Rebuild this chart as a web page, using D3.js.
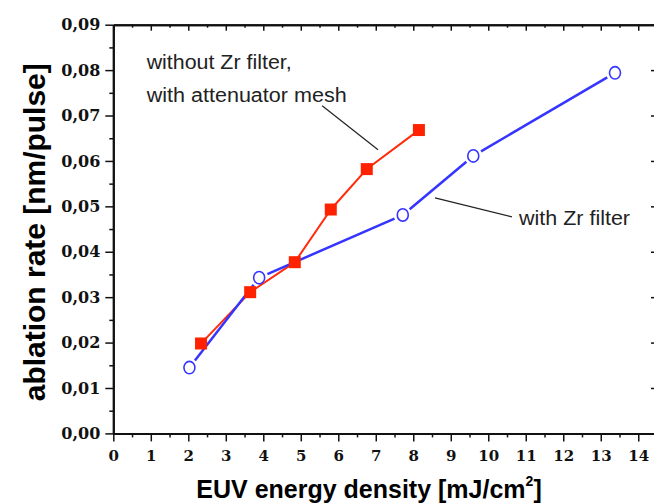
<!DOCTYPE html>
<html>
<head>
<meta charset="utf-8">
<script src="https://cdnjs.cloudflare.com/ajax/libs/d3/7.8.5/d3.min.js"></script>
<style>
  body { margin: 0; background: #fff; }
  svg { display: block; }
</style>
</head>
<body>
<svg id="chart" width="654" height="504"></svg>
<script>
// without Zr filter, with attenuator mesh
var meshX = [2.34, 3.65, 4.84, 5.80, 6.76, 8.15];
var meshY = [0.0198, 0.0311, 0.0377, 0.0493, 0.0582, 0.0668];
// with Zr filter
var zrX = [2.03, 3.89, 7.72, 9.60, 13.38];
var zrY = [0.0145, 0.0343, 0.0481, 0.0611, 0.0794];

var xTicks = d3.range(0, 15, 1);
var yTicks = [0, 0.01, 0.02, 0.03, 0.04, 0.05, 0.06, 0.07, 0.08, 0.09];

var svg = d3.select('#chart');
var pLeft = 113.3, pRight = 657, pTop = 24.7, pBottom = 433.4;

var x = d3.scaleLinear().domain([0, 14.5]).range([pLeft, pRight]);
var y = d3.scaleLinear().domain([0, 0.09]).range([pBottom, pTop]);

var fmtY = function (d) { return d3.format('.2f')(d).replace('.', ','); };
var tickFont = 'DejaVu Serif, serif';

// frame axes
var gBottom = svg.append('g').attr('transform', 'translate(0,' + pBottom + ')')
  .call(d3.axisBottom(x).tickValues(xTicks).tickSize(8).tickSizeOuter(0).tickPadding(9));
svg.append('g').attr('transform', 'translate(0,' + pBottom + ')')
  .call(d3.axisBottom(x).tickValues(d3.range(0.5, 14.5, 1)).tickSize(4).tickSizeOuter(0).tickFormat(''));
var gLeft = svg.append('g').attr('transform', 'translate(' + pLeft + ',0)')
  .call(d3.axisLeft(y).tickValues(yTicks).tickSize(8).tickSizeOuter(0).tickPadding(5).tickFormat(fmtY));
svg.append('g').attr('transform', 'translate(' + pLeft + ',0)')
  .call(d3.axisLeft(y).tickValues(d3.range(0.005, 0.09, 0.01)).tickSize(4).tickSizeOuter(0).tickFormat(''));
svg.append('g').attr('transform', 'translate(0,' + pTop + ')')
  .call(d3.axisBottom(x).tickValues(xTicks).tickSize(6).tickSizeOuter(0).tickFormat(''));
svg.append('g').attr('transform', 'translate(0,' + pTop + ')')
  .call(d3.axisBottom(x).tickValues(d3.range(0.5, 14.5, 1)).tickSize(3).tickSizeOuter(0).tickFormat(''));
svg.append('g').attr('transform', 'translate(' + pRight + ',0)')
  .call(d3.axisLeft(y).tickValues(yTicks).tickSize(6).tickSizeOuter(0).tickFormat(''));
svg.append('g').attr('transform', 'translate(' + pRight + ',0)')
  .call(d3.axisLeft(y).tickValues(d3.range(0.005, 0.09, 0.01)).tickSize(3).tickSizeOuter(0).tickFormat(''));

svg.selectAll('.domain').attr('stroke', '#111').attr('stroke-width', 2);
svg.selectAll('.tick line').attr('stroke', '#111').attr('stroke-width', 1.5);

gBottom.selectAll('text')
  .attr('font-family', tickFont).attr('font-weight', 'bold')
  .attr('font-size', '15px').attr('fill', '#111');
gLeft.selectAll('text')
  .attr('font-family', tickFont).attr('font-weight', 'bold')
  .attr('font-size', '16px').attr('fill', '#111');

// axis titles
svg.append('text')
  .attr('transform', 'translate(45,' + y(0.0443) + ') rotate(-90)')
  .attr('text-anchor', 'middle')
  .attr('font-family', 'Liberation Sans, Arial, sans-serif')
  .attr('font-weight', 'bold').attr('font-size', '30px')
  .attr('textLength', 338).attr('lengthAdjust', 'spacingAndGlyphs')
  .text('ablation rate [nm/pulse]');

var xt = svg.append('text')
  .attr('x', 369).attr('y', 498)
  .attr('text-anchor', 'middle')
  .attr('font-family', 'Liberation Sans, Arial, sans-serif')
  .attr('font-weight', 'bold').attr('font-size', '25px');
xt.append('tspan').text('EUV energy density [mJ/cm');
xt.append('tspan').attr('font-size', '14px').attr('dy', -12).text('2');
xt.append('tspan').attr('dy', 12).text(']');

// connecting lines with small gaps at markers
function drawSeries(xs, ys, color, width, gap) {
  var pts = xs.map(function (d, i) { return [x(d), y(ys[i])]; });
  var segs = d3.pairs(pts);
  svg.append('g').selectAll('line').data(segs)
    .enter().append('line')
    .each(function (s) {
      var dx = s[1][0] - s[0][0], dy = s[1][1] - s[0][1];
      var len = Math.sqrt(dx * dx + dy * dy);
      var ux = dx / len, uy = dy / len;
      d3.select(this)
        .attr('x1', s[0][0] + ux * gap).attr('y1', s[0][1] + uy * gap)
        .attr('x2', s[1][0] - ux * gap).attr('y2', s[1][1] - uy * gap);
    })
    .attr('stroke', color).attr('stroke-width', width);
  return pts;
}

var redPts = drawSeries(meshX, meshY, '#ff2a0a', 2, 3);
var bluePts = drawSeries(zrX, zrY, '#3535ff', 2.5, 9);

svg.append('g').selectAll('rect').data(redPts)
  .enter().append('rect')
  .attr('x', function (d) { return d[0] - 6; })
  .attr('y', function (d) { return d[1] - 6; })
  .attr('width', 12).attr('height', 12)
  .attr('fill', '#ff2200');

svg.append('g').selectAll('ellipse').data(bluePts)
  .enter().append('ellipse')
  .attr('cx', function (d) { return d[0]; })
  .attr('cy', function (d) { return d[1]; })
  .attr('rx', 5.5).attr('ry', 6.2)
  .attr('fill', '#fff')
  .attr('stroke', '#3535ff').attr('stroke-width', 1.6);

// annotations (data units)
var notes = [
  { x: 0.89, y: 0.0802, text: 'without Zr filter,', len: 145 },
  { x: 0.89, y: 0.0730, text: 'with attenuator mesh', len: 200 },
  { x: 10.82, y: 0.0459, text: 'with Zr filter', len: 111 }
];
var pointers = [
  [[5.57, 0.07215], [7.06, 0.06246]],
  [[8.58, 0.05188], [10.63, 0.04769]]
];

svg.append('g').selectAll('text').data(notes)
  .enter().append('text')
  .attr('x', function (d) { return x(d.x); })
  .attr('y', function (d) { return y(d.y); })
  .attr('font-family', 'Liberation Sans, Arial, sans-serif')
  .attr('font-size', '20px').attr('fill', '#222')
  .attr('textLength', function (d) { return d.len; })
  .attr('lengthAdjust', 'spacingAndGlyphs')
  .text(function (d) { return d.text; });

svg.append('g').selectAll('line').data(pointers)
  .enter().append('line')
  .attr('x1', function (d) { return x(d[0][0]); })
  .attr('y1', function (d) { return y(d[0][1]); })
  .attr('x2', function (d) { return x(d[1][0]); })
  .attr('y2', function (d) { return y(d[1][1]); })
  .attr('stroke', '#222').attr('stroke-width', 1.2);
</script>
</body>
</html>
